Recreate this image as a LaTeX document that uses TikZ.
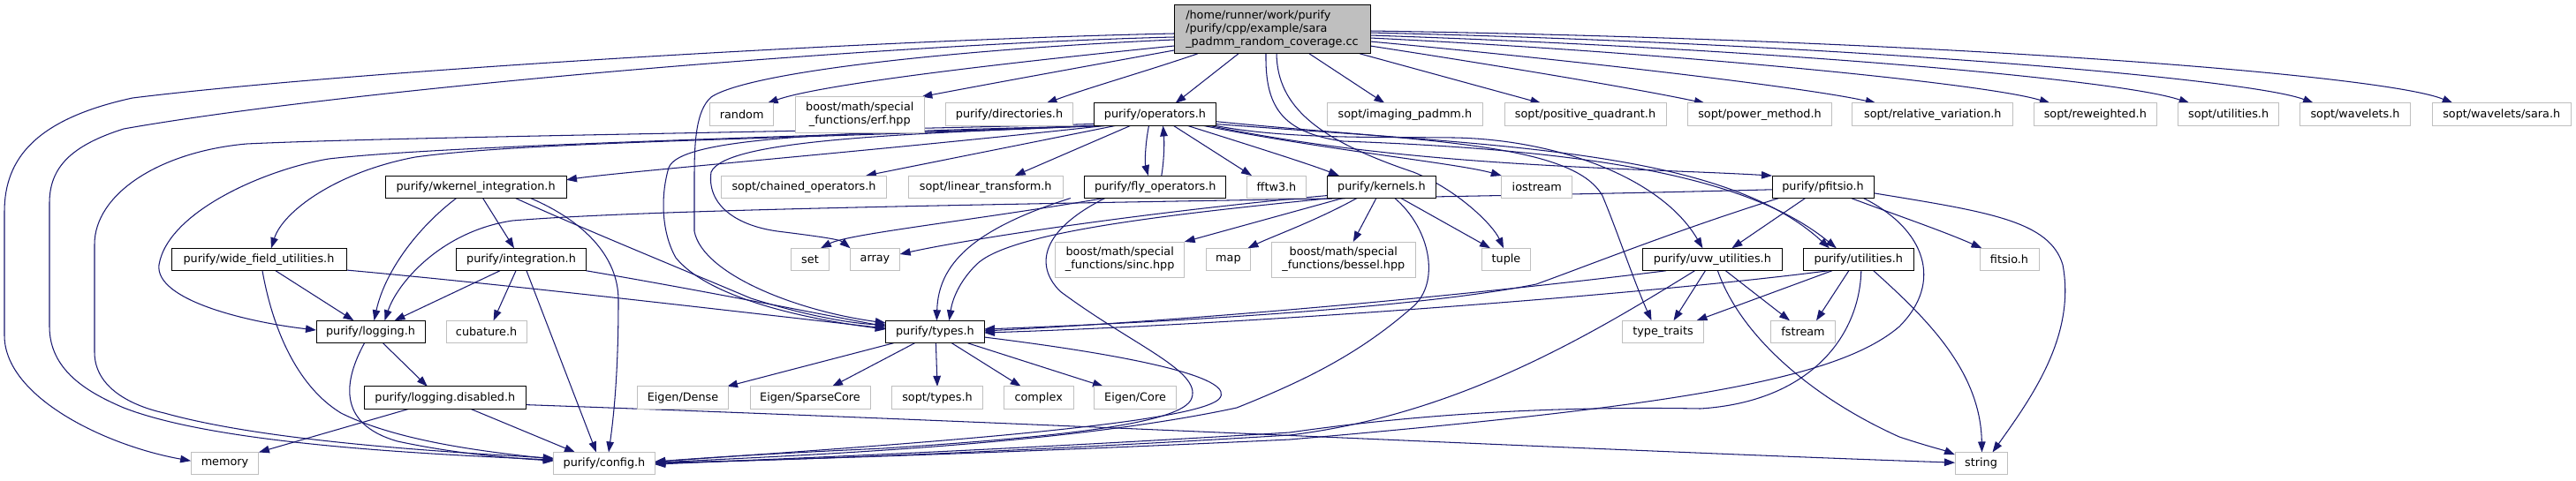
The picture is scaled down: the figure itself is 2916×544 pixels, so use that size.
\documentclass[tikz,border=0pt]{standalone}
\usepackage{fontspec}
\setmainfont{DejaVu Sans}
\usetikzlibrary{arrows.meta,calc}
\definecolor{edgecol}{HTML}{191970}
\definecolor{extgray}{HTML}{BFBFBF}
\pgfdeclarelayer{bglayer}
\pgfdeclarelayer{edgelayer}
\pgfsetlayers{bglayer,edgelayer,main}
\begin{document}
\begin{tikzpicture}[x=1pt,y=-1pt,
  every node/.style={font=\fontsize{12.8}{14.8}\selectfont, inner sep=0pt, outer sep=0pt},
  docbox/.style={draw=black, line width=1pt, fill=white, minimum height=25.5pt},
  extbox/.style={draw=extgray, line width=1pt, fill=white, minimum height=25.5pt},
  edg/.style={draw=edgecol, line width=1.05pt, -{Triangle[length=12pt,width=8.5pt]}},
]
\begin{pgfonlayer}{bglayer}
\fill[white] (0,0) rectangle (2916,544);
\end{pgfonlayer}
\useasboundingbox (0,0) rectangle (2916,544);
% row 1
\node[draw=black, line width=1pt, fill=extgray, minimum width=222pt, minimum height=55.5pt, align=left] (M) at (1440,33) {/home/runner/work/purify\\/purify/cpp/example/sara\\\_padmm\_random\_coverage.cc};
% row 2
\node[extbox, minimum width=72pt] (random) at (839.7,129.7) {random};
\node[extbox, minimum width=146.6pt, minimum height=40.4pt, align=center] (erf) at (973.3,129.8) {boost/math/special\\\_functions/erf.hpp};
\node[extbox, minimum width=144.3pt] (dir) at (1142.5,129.7) {purify/directories.h};
\node[docbox, minimum width=138.2pt] (O) at (1307.5,129.7) {purify/operators.h};
\node[extbox, minimum width=175.9pt] (imaging) at (1590.4,129.7) {sopt/imaging\_padmm.h};
\node[extbox, minimum width=183pt] (positive) at (1794.5,129.7) {sopt/positive\_quadrant.h};
\node[extbox, minimum width=163pt] (power) at (1992,129.7) {sopt/power\_method.h};
\node[extbox, minimum width=181.7pt] (relative) at (2187.8,129.7) {sopt/relative\_variation.h};
\node[extbox, minimum width=138.7pt] (reweighted) at (2371.8,129.7) {sopt/reweighted.h};
\node[extbox, minimum width=114.6pt] (soptutil) at (2522.6,129.7) {sopt/utilities.h};
\node[extbox, minimum width=125.2pt] (wavelets) at (2666,129.7) {sopt/wavelets.h};
\node[extbox, minimum width=157.4pt] (sara) at (2831.7,129.7) {sopt/wavelets/sara.h};
% row 3
\node[docbox, minimum width=204.8pt] (W) at (538.6,211.8) {purify/wkernel\_integration.h};
\node[extbox, minimum width=186.7pt] (chained) at (910,211.8) {sopt/chained\_operators.h};
\node[extbox, minimum width=174.6pt] (linear) at (1115.7,211.8) {sopt/linear\_transform.h};
\node[docbox, minimum width=160.1pt] (F) at (1307.8,211.8) {purify/fly\_operators.h};
\node[extbox, minimum width=66.6pt] (fftw) at (1445,211.8) {fftw3.h};
\node[docbox, minimum width=122.9pt] (K) at (1563.9,211.8) {purify/kernels.h};
\node[extbox, minimum width=80pt] (iostream) at (1739.8,211.8) {iostream};
\node[docbox, minimum width=115pt] (P) at (2063.5,211.8) {purify/pfitsio.h};
% row 4
\node[docbox, minimum width=198pt] (Wi) at (293,294) {purify/wide\_field\_utilities.h};
\node[docbox, minimum width=147pt] (I) at (590,294) {purify/integration.h};
\node[extbox, minimum width=43pt] (set) at (917,294) {set};
\node[extbox, minimum width=56.3pt] (array) at (990.5,294) {array};
\node[extbox, minimum width=146.2pt, minimum height=40pt, align=center] (sinc) at (1267.7,294) {boost/math/special\\\_functions/sinc.hpp};
\node[extbox, minimum width=50.8pt] (map) at (1390.4,294) {map};
\node[extbox, minimum width=162.5pt, minimum height=40pt, align=center] (bessel) at (1520.8,294) {boost/math/special\\\_functions/bessel.hpp};
\node[extbox, minimum width=54.4pt] (tuple) at (1705,294) {tuple};
\node[docbox, minimum width=158.7pt] (U) at (1938.4,294) {purify/uvw\_utilities.h};
\node[docbox, minimum width=124.7pt] (Ut) at (2103.8,294) {purify/utilities.h};
\node[extbox, minimum width=67pt] (fitsio) at (2274.5,294) {fitsio.h};
% row 5
\node[docbox, minimum width=123pt] (L) at (419.5,376) {purify/logging.h};
\node[extbox, minimum width=91pt] (cubature) at (550.6,376) {cubature.h};
\node[docbox, minimum width=111.2pt] (T) at (1058.4,376) {purify/types.h};
\node[extbox, minimum width=91.7pt] (tt) at (1882.5,376) {type\_traits};
\node[extbox, minimum width=73.6pt] (fstream) at (2041,376) {fstream};
% row 6
\node[docbox, minimum width=182.5pt] (D) at (503.8,450.6) {purify/logging.disabled.h};
\node[extbox, minimum width=103pt] (dense) at (773,450.6) {Eigen/Dense};
\node[extbox, minimum width=136pt] (sparse) at (917,450.6) {Eigen/SparseCore};
\node[extbox, minimum width=103.4pt] (stypes) at (1061,450.6) {sopt/types.h};
\node[extbox, minimum width=78.6pt] (complex) at (1175.7,450.6) {complex};
\node[extbox, minimum width=92.2pt] (core) at (1285,450.6) {Eigen/Core};
% row 7
\node[extbox, minimum width=76.8pt] (memory) at (254.5,525.2) {memory};
\node[extbox, minimum width=114.4pt] (C) at (684,525.2) {purify/config.h};
\node[extbox, minimum width=59pt] (string) at (2242.5,525.2) {string};

\begin{pgfonlayer}{edgelayer}
% main
\draw[edg] ($(M.west)+(0,19)$) .. controls (1150,70) and (930,95) .. ($(random.north)+(29,0)$);
\draw[edg] ($(M.west)+(0,24)$) .. controls (1230,75) and (1120,95) .. ($(erf.north)+(70,0)$);
\draw[edg] ($(M.south)+(-84,0)$) .. controls (1300,80) and (1230,100) .. ($(dir.north)+(42,0)$);
\draw[edg] ($(M.south)+(-38,0)$) -- ($(O.north)+(23,0)$);
\draw[edg] ($(M.south)+(42,0)$) -- ($(imaging.north)+(-23,0)$);
\draw[edg] ($(M.south)+(99,0)$) -- ($(positive.north)+(-50,0)$);
\draw[edg] ($(M.east)+(0,19)$) .. controls (1700,75) and (1850,100) .. ($(power.north)+(-62,0)$);
\draw[edg] ($(M.east)+(0,14)$) .. controls (1800,70) and (2050,100) .. ($(relative.north)+(-64,0)$);
\draw[edg] ($(M.east)+(0,10)$) .. controls (1900,60) and (2250,95) .. ($(reweighted.north)+(-51,0)$);
\draw[edg] ($(M.east)+(0,7)$) .. controls (2000,55) and (2400,90) .. ($(soptutil.north)+(-44,0)$);
\draw[edg] ($(M.east)+(0,4)$) .. controls (2100,50) and (2550,90) .. ($(wavelets.north)+(-47,0)$);
\draw[edg] ($(M.east)+(0,2)$) .. controls (2200,45) and (2700,85) .. ($(sara.north)+(-55,0)$);
\draw[edg] ($(M.west)+(0,5)$) .. controls (1000,45) and (400,80) .. (150,111) .. controls (40,135) and (5,180) .. (5,240) -- (5,380) .. controls (5,450) and (120,505) .. ($(memory.west)+(0,-3)$);
\draw[edg] ($(M.west)+(0,9)$) .. controls (1000,50) and (400,100) .. (140,146) .. controls (80,165) and (56,190) .. (56,230) -- (56,370) .. controls (56,420) and (100,445) .. (140,462) .. controls (250,505) and (500,515) .. ($(C.west)+(0,-4)$);
\draw[edg] ($(M.west)+(0,12)$) .. controls (1100,55) and (850,80) .. (805,110) .. controls (788,125) and (786,160) .. (786,200) -- (786,262) .. controls (795,310) and (900,352) .. ($(T.west)+(0,-10)$);
\draw[edg] ($(M.south)+(5,0)$) .. controls (1446,120) and (1490,158) .. (1600,195) .. controls (1650,215) and (1690,255) .. ($(tuple.north)+(-3,0)$);
\draw[edg] ($(M.south)+(-7,0)$) .. controls (1432,120) and (1450,150) .. (1520,160) .. controls (1800,170) and (1980,200) .. ($(Ut.north)+(-25,0)$);
% operators
\draw[edg] ($(O.south)+(-57,0)$) .. controls (1000,170) and (700,195) .. ($(W.east)+(0,-8)$);
\draw[edg] ($(O.south west)+(2,0)$) .. controls (900,158) and (600,160) .. (470,178) .. controls (380,195) and (320,240) .. ($(Wi.north)+(14,0)$);
\draw[edg] ($(O.south west)+(3,0)$) .. controls (900,155) and (500,165) .. (372,180) .. controls (300,192) and (190,240) .. (180,300) .. controls (175,340) and (280,365) .. ($(L.west)+(0,-2)$);
\draw[edg] ($(O.south west)+(0,-2)$) .. controls (900,150) and (450,155) .. (279,163) .. controls (180,172) and (107,220) .. (107,277) -- (107,399) .. controls (107,440) and (150,460) .. (186,468) .. controls (300,500) and (500,512) .. ($(C.west)+(0,-6)$);
\draw[edg] ($(O.south west)+(8,0)$) .. controls (950,150) and (770,155) .. (757,190) .. controls (748,220) and (748,262) .. (765,292) .. controls (800,335) and (900,360) .. ($(T.west)+(0,-3)$);
\draw[edg] ($(O.south west)+(12,0)$) .. controls (1000,152) and (820,160) .. (805,195) .. controls (800,230) and (830,255) .. (880,262) .. controls (920,267) and (950,271) .. ($(array.north)+(-28,0)$);
\draw[edg] ($(O.south)+(-45,0)$) .. controls (1150,165) and (1050,185) .. ($(chained.north)+(70,0)$);
\draw[edg] ($(O.south)+(-28,0)$) -- ($(linear.north)+(33,0)$);
\draw[edg] ($(O.south)+(-7,0)$) .. controls (1296,165) and (1296,185) .. ($(F.north)+(-8,0)$);
\draw[edg] ($(F.north)+(7,0)$) .. controls (1318,180) and (1318,160) .. ($(O.south)+(9,0)$);
\draw[edg] ($(O.south)+(21,0)$) -- ($(fftw.north)+(-28,0)$);
\draw[edg] ($(O.south)+(37,0)$) .. controls (1400,160) and (1480,185) .. ($(K.north)+(-48,0)$);
\draw[edg] ($(O.south east)+(-14,0)$) .. controls (1500,170) and (1650,185) .. (iostream.north west);
\draw[edg] ($(O.south east)+(-7,0)$) .. controls (1600,190) and (1850,190) .. (P.north west);
\draw[edg] ($(O.south east)+(-5,-1)$) .. controls (1450,158) and (1560,155) .. (1646,156) .. controls (1760,158) and (1880,200) .. ($(U.north)+(-11,0)$);
\draw[edg] ($(O.south east)+(-2,-2)$) .. controls (1700,165) and (1950,170) .. ($(Ut.north)+(-33,0)$);
\draw[edg] ($(O.east)+(0,8)$) .. controls (1600,160) and (1780,160) .. (1814,222) .. controls (1830,260) and (1850,320) .. ($(tt.north)+(-13,0)$);
% fly operators
\draw[edg] ($(F.south)+(-58,0)$) .. controls (1100,250) and (960,265) .. ($(set.north)+(12,0)$);
\draw[edg] ($(F.south)+(-96,0)$) .. controls (1100,260) and (1062,300) .. ($(T.north)+(2,0)$);
\draw[edg] ($(F.south)+(-57,0)$) .. controls (1180,260) and (1170,300) .. (1200,330) .. controls (1280,390) and (1360,420) .. (1349,451) .. controls (1340,480) and (1200,495) .. (1000,508) .. controls (850,515) and (780,520) .. ($(C.east)+(0,-2)$);
% kernels
\draw[edg] ($(K.south west)+(0,-3)$) .. controls (1300,240) and (1100,270) .. ($(array.east)+(0,-6)$);
\draw[edg] ($(K.south)+(-44,0)$) -- ($(sinc.north)+(73,0)$);
\draw[edg] ($(K.south)+(-28,0)$) .. controls (1490,250) and (1440,268) .. ($(map.north)+(22,0)$);
\draw[edg] ($(K.south)+(-6,0)$) -- ($(bessel.north)+(11,0)$);
\draw[edg] ($(K.south)+(22,0)$) -- ($(tuple.north)+(-18,0)$);
\draw[edg] ($(K.south west)+(4,0)$) .. controls (1300,245) and (1140,265) .. (1105,300) .. controls (1085,320) and (1078,340) .. ($(T.north)+(16,0)$);
\draw[edg] ($(K.south)+(15,0)$) .. controls (1620,260) and (1630,320) .. (1600,347) .. controls (1540,400) and (1480,430) .. (1400,462) .. controls (1200,505) and (900,516) .. ($(C.east)+(0,-1)$);
% pfitsio
\draw[edg] ($(P.west)+(0,3)$) .. controls (1500,228) and (800,232) .. (580,250) .. controls (500,262) and (450,320) .. ($(L.north)+(16,0)$);
\draw[edg] ($(P.south)+(-20,0)$) -- ($(U.north)+(22,0)$);
\draw[edg] ($(P.south)+(-50,0)$) .. controls (1900,260) and (1800,300) .. (1739,322) .. controls (1600,350) and (1300,366) .. ($(T.east)+(0,-3)$);
\draw[edg] ($(P.east)+(0,7)$) .. controls (2250,240) and (2320,250) .. (2335,300) .. controls (2350,380) and (2300,450) .. ($(string.north)+(13,0)$);
\draw[edg] ($(P.south)+(32,0)$) .. controls (2150,245) and (2200,262) .. ($(fitsio.north)+(-31,0)$);
\draw[edg] ($(P.south)+(46,0)$) .. controls (2180,260) and (2200,320) .. (2150,370) .. controls (2080,430) and (1900,460) .. (1460,498) .. controls (1100,515) and (850,522) .. ($(C.east)+(0,-1)$);
% uvw utilities
\draw[edg] ($(U.south west)+(27,0)$) .. controls (1700,330) and (1400,360) .. ($(T.east)+(0,-1)$);
\draw[edg] ($(U.south)+(-8,0)$) -- ($(tt.north)+(12,0)$);
\draw[edg] ($(U.south)+(15,0)$) -- ($(fstream.north)+(-15,0)$);
\draw[edg] ($(U.south)+(6,0)$) .. controls (1970,380) and (2050,450) .. (2150,495) .. controls (2180,505) and (2200,510) .. ($(string.west)+(0,-10)$);
\draw[edg] ($(U.south)+(-20,0)$) .. controls (1800,380) and (1650,470) .. (1460,493) .. controls (1100,515) and (850,522) .. (C.east);
% utilities
\draw[edg] ($(Ut.south)+(-34,0)$) .. controls (1850,335) and (1400,368) .. ($(T.east)+(0,1)$);
\draw[edg] ($(Ut.south)+(-30,0)$) -- ($(tt.north)+(38,0)$);
\draw[edg] ($(Ut.south)+(-11,0)$) -- ($(fstream.north)+(15,0)$);
\draw[edg] ($(Ut.south)+(17,0)$) .. controls (2180,360) and (2242,420) .. ($(string.north)+(1,0)$);
\draw[edg] ($(Ut.south)+(3,0)$) .. controls (2105,380) and (2050,455) .. (1925,463) .. controls (1750,460) and (1600,470) .. (1460,490) .. controls (1100,512) and (850,521) .. ($(C.east)+(0,1)$);
% wkernel
\draw[edg] ($(W.south)+(-22,0)$) .. controls (470,260) and (435,310) .. ($(L.north)+(4,0)$);
\draw[edg] ($(W.south)+(8,0)$) -- ($(I.north)+(-8,0)$);
\draw[edg] ($(W.south)+(45,0)$) .. controls (650,255) and (760,300) .. (850,338) .. controls (920,360) and (970,367) .. ($(T.west)+(0,-8)$);
\draw[edg] ($(W.south)+(62,0)$) .. controls (660,250) and (700,290) .. (700,340) .. controls (700,420) and (695,470) .. ($(C.north)+(5,0)$);
% wide field
\draw[edg] ($(Wi.south)+(19,0)$) -- ($(L.north)+(-19,0)$);
\draw[edg] ($(Wi.south)+(4,0)$) .. controls (310,380) and (340,440) .. (386,468) .. controls (450,500) and (550,512) .. ($(C.west)+(0,-5)$);
\draw[edg] ($(Wi.east)+(0,12)$) .. controls (600,325) and (850,355) .. ($(T.west)+(0,-4)$);
% integration
\draw[edg] ($(I.south)+(-24,0)$) -- ($(L.north)+(27,0)$);
\draw[edg] ($(I.south)+(-6,0)$) -- ($(cubature.north)+(8,0)$);
\draw[edg] ($(I.south)+(6,0)$) -- ($(C.north)+(-9,0)$);
\draw[edg] (I.south east) .. controls (800,330) and (950,360) .. ($(T.west)+(0,-6)$);
% logging
\draw[edg] ($(L.south)+(14,0)$) -- ($(D.north)+(-20,0)$);
\draw[edg] ($(L.south)+(-7,0)$) .. controls (390,430) and (380,480) .. (450,500) .. controls (520,515) and (580,519) .. ($(C.west)+(0,-3)$);
% logging disabled
\draw[edg] ($(D.south)+(-41,0)$) -- (memory.north east);
\draw[edg] ($(D.south)+(29,0)$) -- ($(C.north)+(-33,0)$);
\draw[edg] ($(D.east)+(0,8)$) .. controls (1200,480) and (1800,510) .. ($(string.west)+(0,-1)$);
% types
\draw[edg] ($(T.south)+(-47,0)$) -- ($(dense.north)+(50,0)$);
\draw[edg] ($(T.south)+(-23,0)$) -- ($(sparse.north)+(25,0)$);
\draw[edg] ($(T.south)+(1,0)$) -- (stypes.north);
\draw[edg] ($(T.south)+(19,0)$) -- ($(complex.north)+(-20,0)$);
\draw[edg] ($(T.south)+(37,0)$) -- ($(core.north)+(-36,0)$);
\draw[edg] ($(T.east)+(0,6)$) .. controls (1300,405) and (1400,430) .. (1380,452) .. controls (1350,482) and (1000,505) .. ($(C.east)+(0,-2)$);
\end{pgfonlayer}
\end{tikzpicture}
\end{document}
